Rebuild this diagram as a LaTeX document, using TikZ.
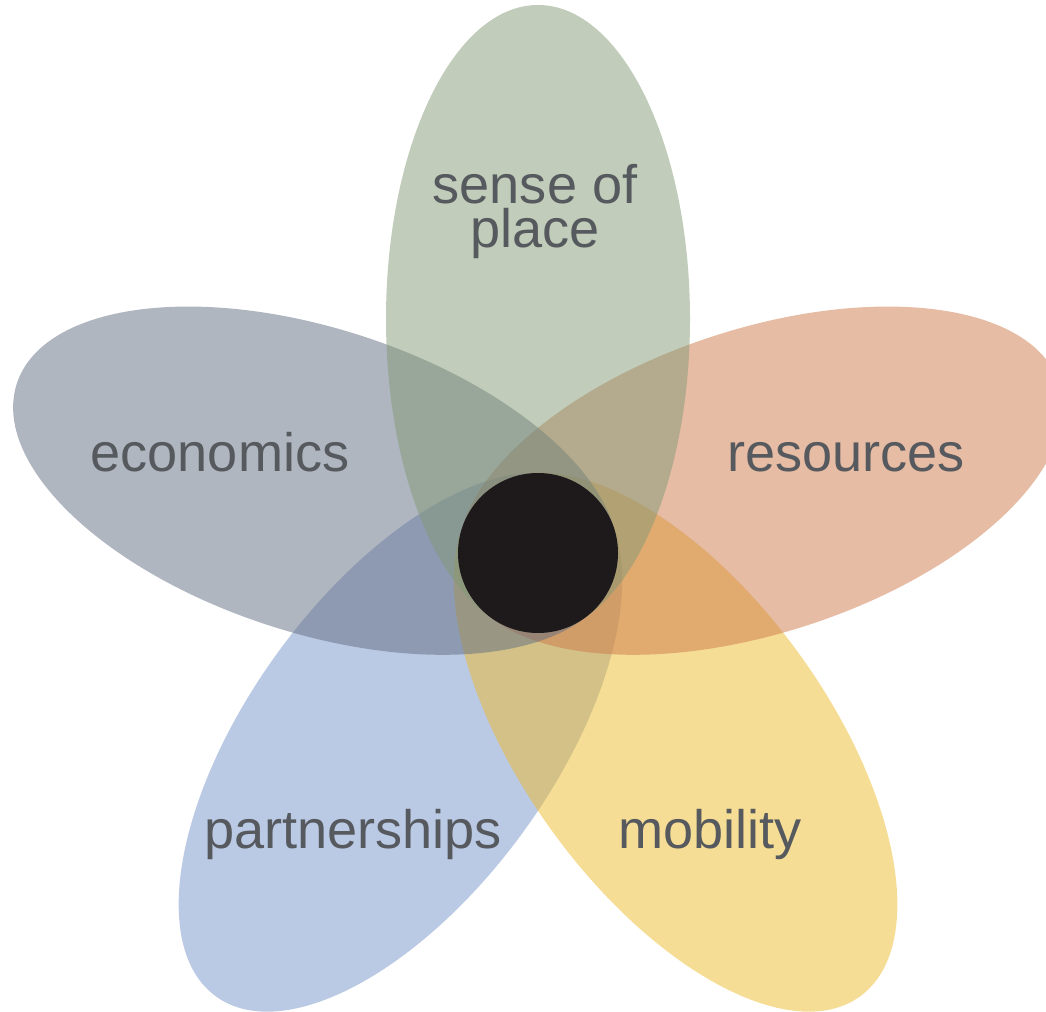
\documentclass[tikz,border=0pt]{standalone}
\usepackage{fontspec}
\setmainfont{Liberation Sans}

\definecolor{partblue}{RGB}{117,147,201}
\definecolor{mobyellow}{RGB}{237,187,45}
\definecolor{resorange}{RGB}{205,121,75}
\definecolor{econgray}{RGB}{97,109,129}
\definecolor{placegreen}{RGB}{131,153,117}
\definecolor{centreblack}{RGB}{30,25,27}
\definecolor{textgray}{RGB}{86,89,93}

\begin{document}
\begin{tikzpicture}[
    petal/.style={fill opacity=0.5},
    petaltext/.style={text=textgray, font=\fontsize{15.4}{12.5}\selectfont, anchor=base, inner sep=0pt}
]
    % Page size around the flower
    \useasboundingbox (-5.38,-4.58) rectangle (5.08,5.53);

    % Centre of the flower
    \coordinate (O) at (0,0);

    % Petals: rotated ellipses whose inner ends stop at the black disc
    \fill[petal, partblue, rotate=234] (2.34,0) ellipse [x radius=3.14, y radius=1.52];
    \fill[petal, mobyellow, rotate=306] (2.34,0) ellipse [x radius=3.14, y radius=1.52];
    \fill[petal, resorange, rotate=18] (2.34,0) ellipse [x radius=3.14, y radius=1.52];
    \fill[petal, econgray, rotate=162] (2.34,0) ellipse [x radius=3.14, y radius=1.52];
    \fill[petal, placegreen, rotate=90] (2.34,0) ellipse [x radius=3.14, y radius=1.52];

    % Black disc in the middle
    \fill[centreblack] (O) circle (0.8);

    % Petal names
    \node[petaltext, align=center, anchor=north] (place) at (-0.03,3.89) {sense of\\place};
    \node[petaltext] (economics) at (-3.18,0.81) {economics};
    \node[petaltext] (resources) at (3.08,0.81) {resources};
    \node[petaltext] (partnerships) at (-1.85,-2.95) {partnerships};
    \node[petaltext] (mobility) at (1.72,-2.95) {mobility};
\end{tikzpicture}
\end{document}
